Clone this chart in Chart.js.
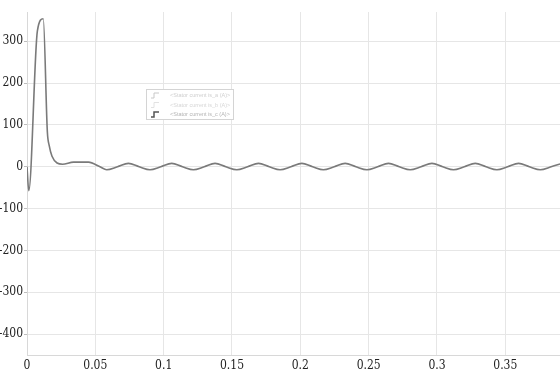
<!DOCTYPE html>
<html>
<head>
<meta charset="utf-8">
<script src="https://cdn.jsdelivr.net/npm/chart.js@4"></script>
<style>
  html, body { margin: 0; padding: 0; background: #fff; }
  #wrap { width: 560px; height: 377px; }
</style>
</head>
<body>
<div id="wrap"><canvas id="currentChart" width="560" height="377"></canvas></div>
<script>
// time (s) and stator current (A)
const times = [
    0, 0.0013, 0.0076, 0.0119, 0.0149, 0.0163, 0.0183, 0.0220, 0.0260, 0.0340, 0.0450, 0.0534,
    0.0583, 0.0662, 0.0742, 0.0821, 0.0900, 0.0979, 0.1059, 0.1138, 0.1218, 0.1297,
    0.1376, 0.1455, 0.1535, 0.1614, 0.1694, 0.1773, 0.1852, 0.1931, 0.2011, 0.2090,
    0.2169, 0.2248, 0.2328, 0.2407, 0.2487, 0.2566, 0.2645, 0.2724, 0.2804, 0.2883,
    0.2963, 0.3042, 0.3121, 0.3200, 0.3280, 0.3359, 0.3438, 0.3517, 0.3597, 0.3676,
    0.3756, 0.3835, 0.3914
];
const current = [
    0, -57, 325, 354, 83, 50, 25, 9, 6, 11, 11, 0,
    -7, 0, 8, 0, -7, 0, 8, 0, -7, 0,
    8, 0, -7, 0, 8, 0, -7, 0, 8, 0,
    -7, 0, 8, 0, -7, 0, 8, 0, -7, 0,
    8, 0, -7, 0, 8, 0, -7, 0, 8, 0,
    -7, 0, 8
];

const xTicks = [0, 0.05, 0.1, 0.15, 0.2, 0.25, 0.3, 0.35];
const yTicks = [-400, -300, -200, -100, 0, 100, 200, 300];

const legendLabels = [
    "<Stator current is_a (A)>",
    "<Stator current is_b (A)>",
    "<Stator current is_c (A)>"
];
const legendIconColors = ["#c8c8c8", "#e2e2e2", "#555555"];
const legendTextColors = ["#cfcfcf", "#d6d6d6", "#b4b4b4"];

const serif = "'DejaVu Serif Condensed', 'Liberation Serif', serif";

// small boxed legend inside the plot, like the scope window
const scopeLegend = {
    id: "scopeLegend",
    afterDraw(chart) {
        const ctx = chart.ctx;
        const bx = 146, by = 89, bw = 87, bh = 30;
        ctx.save();
        ctx.fillStyle = "#fff";
        ctx.fillRect(bx, by, bw, bh);
        ctx.strokeStyle = "#d4d4d4";
        ctx.lineWidth = 1;
        ctx.strokeRect(bx + 0.5, by + 0.5, bw, bh);
        legendLabels.forEach((txt, i) => {
            const cy = by + 6 + i * 9.5;
            ctx.strokeStyle = legendIconColors[i];
            ctx.lineWidth = i === 2 ? 1.5 : 1;
            ctx.beginPath();
            ctx.moveTo(bx + 5, cy + 3);
            ctx.lineTo(bx + 8, cy + 3);
            ctx.lineTo(bx + 8, cy - 2);
            ctx.lineTo(bx + 13, cy - 2);
            ctx.stroke();
            ctx.fillStyle = legendTextColors[i];
            ctx.font = "5.5px Arial, 'Liberation Sans', sans-serif";
            ctx.textBaseline = "middle";
            ctx.fillText(txt, bx + 24, cy + 0.5);
        });
        ctx.restore();
    }
};

new Chart(document.getElementById("currentChart"), {
    type: "line",
    data: {
        datasets: [{
            label: legendLabels[2],
            data: times.map((t, i) => ({ x: t, y: current[i] })),
            borderColor: "#7a7a7a",
            borderWidth: 1.6,
            pointRadius: 0,
            cubicInterpolationMode: "monotone",
            fill: false
        }]
    },
    options: {
        responsive: false,
        animation: false,
        layout: { padding: { top: 12, right: 0, left: 0, bottom: 0 } },
        plugins: {
            legend: { display: false },
            tooltip: { enabled: false }
        },
        scales: {
            x: {
                type: "linear",
                min: 0,
                max: 0.39,
                afterBuildTicks: s => { s.ticks = xTicks.map(v => ({ value: v })); },
                afterFit: s => { s.height = 22; },
                grid: { color: "#e6e6e6", drawTicks: false },
                border: { color: "#d8d8d8" },
                ticks: {
                    padding: 4,
                    color: "#222",
                    font: { family: serif, size: 12 },
                    maxRotation: 0,
                    callback: v => String(Number(v.toFixed(2)))
                }
            },
            y: {
                min: -450,
                max: 370,
                afterBuildTicks: s => { s.ticks = yTicks.map(v => ({ value: v })); },
                afterFit: s => { s.width = 27; },
                grid: { color: "#e6e6e6", tickLength: 3, tickColor: "#bdbdbd" },
                border: { color: "#d8d8d8" },
                ticks: {
                    padding: 1,
                    color: "#222",
                    font: { family: serif, size: 12 }
                }
            }
        }
    },
    plugins: [scopeLegend]
});
</script>
</body>
</html>
